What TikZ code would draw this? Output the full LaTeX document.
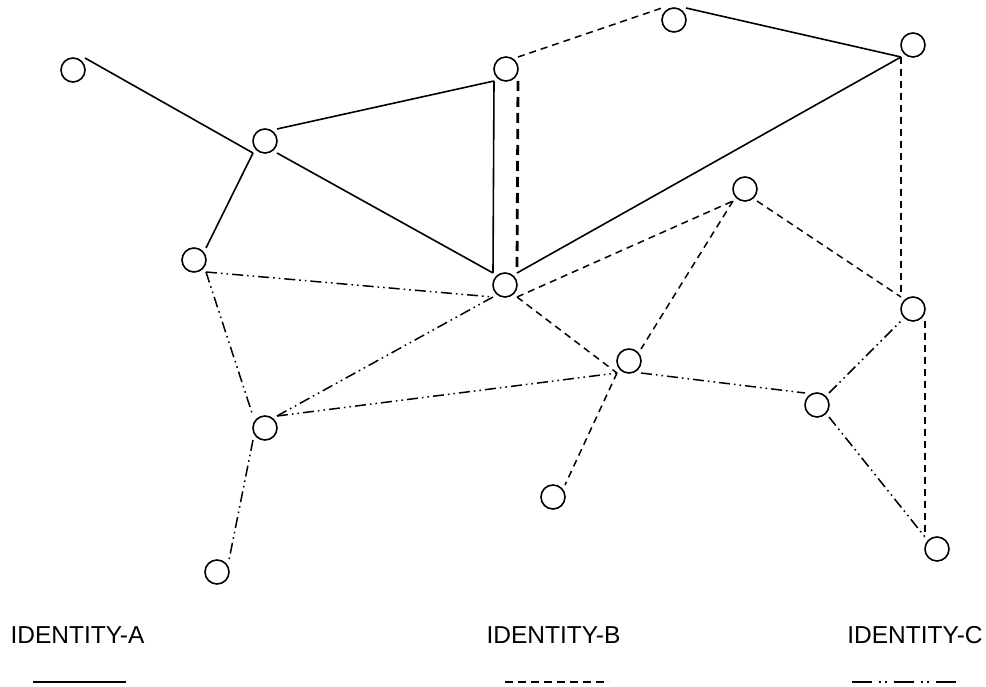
\documentclass[tikz,border=0pt]{standalone}
\usepackage{fontspec}
\setmainfont{Liberation Sans}
\begin{document}
\begin{tikzpicture}[x=1pt,y=-1pt,
  ring/.style={circle, draw, line width=1.6pt, minimum size=24pt, inner sep=0pt},
  vert/.style={rectangle, minimum size=24pt, inner sep=0pt, outer sep=0pt,
    append after command={(\tikzlastnode.center) node[ring]{}}},
  linkA/.style={line width=1.6pt},
  linkB/.style={line width=1.5pt, dash pattern=on 7pt off 5pt},
  linkBthick/.style={line width=2.8pt, dash pattern=on 10pt off 6pt},
  linkC/.style={line width=1.5pt, dash pattern=on 11pt off 4pt on 1.6pt off 4pt on 1.6pt off 4pt},
  legendC/.style={line width=2pt, dash pattern=on 20pt off 7pt on 2pt off 4pt on 2pt off 7pt},
  caption/.style={anchor=base, inner sep=0pt, font=\fontsize{24.5}{29}\selectfont}]
\useasboundingbox (0,0) rectangle (986,687);

% stations
\node[vert] (n1) at (73,70) {};
\node[vert] (n2) at (265,141) {};
\node[vert] (n3) at (506,69) {};
\node[vert] (n4) at (674,20) {};
\node[vert] (n5) at (913,45) {};
\node[vert] (n6) at (194,260) {};
\node[vert] (n7) at (505,285) {};
\node[vert] (n8) at (745,189) {};
\node[vert] (n9) at (913,309) {};
\node[vert] (n10) at (629,361) {};
\node[vert] (n11) at (265,428) {};
\node[vert] (n12) at (817,405) {};
\node[vert] (n13) at (553,497) {};
\node[vert] (n14) at (217,572) {};
\node[vert] (n15) at (937,549) {};

% solid links
\draw[linkA] (n1.north east) -- (n2.south west);
\draw[linkA] (n2.north east) -- (n3.south west);
\draw[linkA] (n2.south west) -- (n6.north east);
\draw[linkA] (n2.south east) -- (n7.north west);
\draw[linkA] (n3.south west) -- (n7.north west);
\draw[linkA] (n4.north east) -- (n5.south west);
\draw[linkA] (n7.north east) -- (n5.south west);

% dashed links
\draw[linkB] (n3.north east) -- (n4.north west);
\draw[linkBthick] (n3.south east) -- (n7.north east);
\draw[linkB] (n5.south west) -- (n9.north west);
\draw[linkB] (n8.south east) -- (n9.north west);
\draw[linkB] (n7.south east) -- (n8.south west);
\draw[linkB] (n8.south west) -- (n10.north east);
\draw[linkB] (n7.south east) -- (n10.south west);
\draw[linkB] (n10.south west) -- (n13.north east);
\draw[linkB] (n9.south east) -- (n15.north west);

% dash-dot-dot links
\draw[linkC] (n6.south east) -- (n7.south west);
\draw[linkC] (n6.south east) -- (n11.north west);
\draw[linkC] (n7.south west) -- (n11.north east);
\draw[linkC] (n11.north east) -- (n10.south west);
\draw[linkC] (n10.south east) -- (n12.north west);
\draw[linkC] (n12.north east) -- (n9.south west);
\draw[linkC] (n12.south east) -- (n15.north west);
\draw[linkC] (n11.south west) -- (n14.north east);

% legend
\node[caption] (capA) at (77.5,643) {IDENTITY-A};
\node[caption] (capB) at (553.5,643) {IDENTITY-B};
\node[caption] (capC) at (915,643) {IDENTITY-C};
\coordinate (a0) at (33,682);  \coordinate (a1) at (126,682);
\coordinate (b0) at (505,682); \coordinate (b1) at (609,682);
\coordinate (c0) at (852,682); \coordinate (c1) at (961,682);
\draw[line width=2pt] (a0) -- (a1);
\draw[line width=2pt, dash pattern=on 8pt off 5pt] (b0) -- (b1);
\draw[legendC] (c0) -- (c1);
\end{tikzpicture}
\end{document}
